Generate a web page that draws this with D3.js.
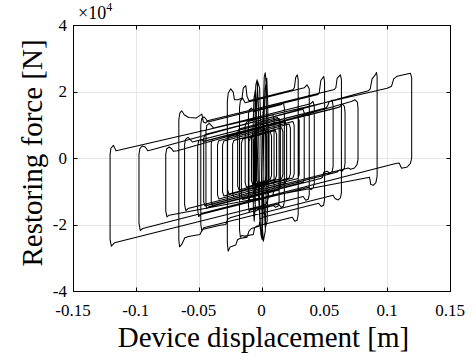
<!DOCTYPE html>
<html><head><meta charset="utf-8">
<script src="https://cdn.jsdelivr.net/npm/d3@7"></script>
<style>
body{margin:0;background:#fff}
text{font-family:"Liberation Serif","Times New Roman",serif;fill:#000}
</style>
</head><body>
<svg id="c" width="474" height="358"></svg>
<script>
// ---------- data ----------
const xTicks = [-0.15, -0.1, -0.05, 0, 0.05, 0.1, 0.15];
const xTickLabels = ["-0.15", "-0.1", "-0.05", "0", "0.05", "0.1", "0.15"];
const yTicks = [-4, -2, 0, 2, 4];
const yTickLabels = ["-4", "-2", "0", "2", "4"];
const xLabel = "Device displacement [m]";
const yLabel = "Restoring force [N]";
const yExponent = "4";

// hysteresis path: [displacement (m), restoring force (x1e4 N)]
const pathOuter = [
 [0.005,1.10],[0.0055,0.9],[0.0055,-1.2],[0.004,-1.38],[0.002,-1.42],
 [-0.117,-2.55],[-0.1195,-2.65],[-0.1205,-2.45],[-0.1205,0.1],[-0.1198,0.3],[-0.1178,0.38],[-0.1158,0.22],[-0.113,0.24],
 [0.100,2.10],[0.1035,2.16],[0.1052,2.38],[0.108,2.46],[0.1185,2.55],[0.1195,2.42],[0.1195,0.0],[0.1185,-0.16],[0.1160,-0.27],[0.1115,-0.31],[0.1095,-0.15],[0.106,-0.17],
 [-0.0945,-2.12],[-0.0965,-2.18],[-0.0975,-1.95],[-0.0975,0.1],[-0.0968,0.28],[-0.0950,0.36],[-0.0925,0.33],[-0.0905,0.22],[-0.088,0.24],
 [0.0850,2.02],[0.0865,2.08],[0.0880,2.38],[0.0905,2.50],[0.0915,2.57],[0.0920,2.45],[0.0920,-0.55],[0.0910,-0.74],[0.0890,-0.82],[0.0870,-0.80],[0.0860,-0.58],[0.083,-0.6],
 [-0.0735,-1.72],[-0.0752,-1.77],[-0.0762,-1.6],[-0.0762,0.1],[-0.0755,0.27],[-0.0735,0.33],[-0.0715,0.28],[-0.0700,0.20],[-0.067,0.22],
 [0.0715,1.70],[0.0745,1.75],[0.0763,1.68],[0.0768,1.5],[0.0768,-0.05],[0.0760,-0.2],[0.0740,-0.3],[0.0710,-0.34],[0.0690,-0.3],
 [-0.0585,-1.52],[-0.0602,-1.58],[-0.0612,-1.4],[-0.0612,0.4],[-0.0605,0.56],[-0.0585,0.62],[-0.0565,0.55],[-0.055,0.48],
 [0.0510,1.50],[0.0525,1.56],[0.0540,1.70],[0.0563,1.74],[0.0570,1.55],[0.0570,-0.25],[0.0562,-0.40],[0.0545,-0.46],[0.0525,-0.40],[0.0495,-0.43],[0.0485,-0.58],[0.0470,-0.62],
 [-0.0420,-1.47],[-0.0435,-1.52],[-0.0442,-1.35],[-0.0442,0.8],[-0.0435,0.98],[-0.0415,1.04],[-0.0395,0.96],[-0.038,0.9],
 [0.0390,1.63],[0.0410,1.70],[0.0420,1.55],[0.0420,-0.75],[0.0412,-0.90],[0.0395,-0.95],[0.0375,-0.88],
 [-0.0485,-1.70],[-0.0500,-1.76],[-0.0508,-1.55],[-0.0508,0.35],[-0.0500,0.52],[-0.0482,0.56],[-0.0462,0.50],
 [0.0620,1.53],[0.0645,1.62],[0.0660,1.55],[0.0665,1.35],[0.0665,-0.15],[0.0658,-0.32],[0.0640,-0.40],[0.0620,-0.36],[0.0605,-0.42]
];
const pathCentre = [
 [-0.045,-1.44],[-0.046,-1.32],[-0.046,0.59],[-0.045,0.71],[0.033,1.47],[0.034,1.35],[0.034,-0.61],[0.033,-0.73],
 [-0.039,-1.43],[-0.040,-1.31],[-0.040,0.45],[-0.039,0.57],[0.029,1.24],[0.030,1.12],[0.030,-0.50],[0.029,-0.62],
 [-0.034,-1.23],[-0.035,-1.11],[-0.035,0.40],[-0.034,0.52],[0.025,1.10],[0.026,0.98],[0.026,-0.48],[0.025,-0.60],
 [-0.030,-1.14],[-0.031,-1.02],[-0.031,0.39],[-0.030,0.51],[0.022,1.02],[0.023,0.90],[0.023,-0.48],[0.022,-0.60],
 [-0.026,-1.08],[-0.027,-0.96],[-0.027,0.52],[-0.026,0.64],[0.019,1.09],[0.020,0.97],[0.020,-0.64],[0.019,-0.76],
 [-0.022,-1.17],[-0.023,-1.05],[-0.023,0.41],[-0.022,0.53],[0.016,0.91],[0.017,0.79],[0.017,-0.50],[0.016,-0.62],
 [-0.018,-0.96],[-0.019,-0.84],[-0.019,0.75],[-0.018,0.87],[0.014,1.19],[0.015,1.07],[0.015,-0.84],[0.014,-0.96],
 [-0.015,-1.25],[-0.016,-1.13],[-0.016,0.45],[-0.015,0.57],[0.011,0.83],[0.012,0.71],[0.012,-0.52],[0.011,-0.64],
 [-0.012,-0.87],[-0.013,-0.75],[-0.013,0.96],[-0.012,1.08],[0.009,1.30],[0.010,1.18],[0.010,-0.99],[0.009,-1.11],
 [-0.009,-1.30],[-0.010,-1.18],[-0.010,0.49],[-0.009,0.61],[0.007,0.78],[0.008,0.66],[0.008,-0.52],[0.007,-0.64],
 [-0.007,-0.80],[-0.008,-0.68],[-0.008,0.60],[-0.007,0.72],[0.005,0.86],[0.006,0.74],[0.006,-0.62],[0.005,-0.74],
 [-0.005,-0.86],[-0.006,-0.74],[-0.006,0.54],[-0.005,0.66],[0.003,0.76],[0.004,0.64],[0.004,-0.59],[0.003,-0.71],
 [-0.003,-0.79],[-0.004,-0.67],[-0.004,0.74],[-0.003,0.86],[0.002,0.93],[0.003,0.81],[0.003,-0.75],[0.002,-0.87],
 [-0.004,-0.95],[-0.005,-0.83],[-0.005,0.93],[-0.004,1.05]
];
const pathInner = [
 [0.0125,1.22],[0.014,1.15],[0.014,-1.35],[0.013,-1.45],[0.011,-1.48],[0.0095,-1.43],
 [-0.025,-1.80],[-0.027,-1.84],[-0.0285,-2.0],[-0.033,-2.02],[-0.047,-2.15],[-0.049,-2.3],[-0.058,-2.36],[-0.061,-2.4],[-0.0635,-2.6],[-0.0652,-2.67],
 [-0.0658,-2.45],[-0.0658,1.15],[-0.0650,1.35],[-0.0635,1.42],[-0.0615,1.3],[-0.058,1.22],[-0.052,1.2],[-0.0475,1.32],[-0.0462,1.08],[-0.0445,1.05],[-0.043,1.12],
 [0.0580,2.06],[0.0592,2.12],[0.0602,2.40],[0.0628,2.50],[0.0636,2.36],[0.0636,-1.05],[0.0628,-1.20],[0.0610,-1.26],[0.0585,-1.22],[0.0570,-1.12],
 [-0.0460,-2.10],[-0.0475,-2.2],[-0.0483,-2.0],[-0.0483,1.0],[-0.0476,1.18],[-0.0458,1.24],[-0.0440,1.16],[-0.0425,1.08],
 [0.0450,1.91],[0.0460,1.98],[0.0472,2.33],[0.0495,2.45],[0.0502,2.30],[0.0502,-1.25],[0.0494,-1.42],[0.0475,-1.46],[0.0455,-1.36],
 [0.001,-1.78],[-0.001,-1.84],[-0.002,-2.05],[-0.008,-2.12],[-0.010,-2.2],[-0.0115,-2.38],[-0.017,-2.42],[-0.019,-2.45],[-0.0205,-2.62],[-0.025,-2.68],[-0.0265,-2.8],
 [-0.0272,-2.55],[-0.0272,1.7],[-0.0265,1.95],[-0.0245,2.08],[-0.0225,1.98],[-0.0215,1.75],[-0.019,1.75],[-0.0155,1.8],[-0.0145,2.1],[-0.0125,2.18],[-0.0115,1.85],[-0.010,1.72],
 [0.0250,2.05],[0.0262,2.12],[0.0272,2.42],[0.0285,2.50],[0.0292,2.35],[0.0292,-1.7],[0.0284,-1.87],[0.0265,-1.9],[0.0245,-1.78],
 [-0.004,-2.05],[-0.0055,-2.1],[-0.0065,-2.3],[-0.0135,-2.35],[-0.0155,-2.33],[-0.0168,-2.38],[-0.0175,-2.15],[-0.0175,1.5],[-0.0168,1.72],[-0.015,1.8],[-0.013,1.66],
 [0.0340,2.11],[0.0362,2.2],[0.0380,2.08],[0.0380,-1.1],[0.0372,-1.24],[0.0352,-1.27],[0.0332,-1.16],
 [-0.0090,-1.56],[-0.0098,-1.62],[-0.0104,-1.42],[-0.0104,1.3],[-0.0097,1.45],[-0.0080,1.5],[-0.0060,1.40],
 [0.0160,1.61],[0.0175,1.66],[0.0182,1.5],[0.0182,-1.3],[0.0175,-1.45],[0.0155,-1.48],[0.0135,-1.38]
];
const pathSpikes = [
 [-0.003,-1.54],[-0.0045,-1.6],[-0.0055,-1.2],[-0.005,1.8],[-0.0045,2.2],[-0.0035,2.35],[-0.0025,1.6],[-0.0015,-1.5],[-0.0005,-2.3],[0.0005,-2.45],
 [0.0012,-1.6],[0.0015,1.5],[0.0022,2.45],[0.0030,2.56],[0.0038,2.2],[0.0040,-0.5],[0.0030,-2.2],[0.0015,-2.5],[0.0005,-2.0],[-0.0005,0.9],
 [-0.0015,2.1],[-0.0030,2.3],[-0.0042,1.2],[-0.0050,-1.4],[-0.0058,-1.9],[-0.0065,-1.5],[-0.0068,0.8],[-0.0060,1.8],[-0.0048,2.05],[-0.0038,1.0],
 [-0.0025,-1.0],[-0.0010,-2.1],[0.0000,-2.4],[0.0010,-1.2],[0.0020,1.2],[0.0030,2.1],[0.0042,2.4],[0.0050,1.6],[0.0052,-0.8],[0.0045,-1.9],
 [0.0030,-2.1],[0.0015,-1.0],[0.0008,0.6],[0.0012,1.4]
];

// ---------- drawing ----------
const svg = d3.select("#c");
const L = 73, R = 450, T = 25, B = 291;
const x = d3.scaleLinear().domain([-0.15, 0.15]).range([L, R]);
const y = d3.scaleLinear().domain([-4, 4]).range([B, T]);
const px = v => Math.round(v) + 0.5;

// grid
const g = svg.append("g");
g.selectAll("line.gx").data(xTicks.slice(1, -1)).join("line")
  .attr("x1", d => px(x(d))).attr("x2", d => px(x(d))).attr("y1", T).attr("y2", B)
  .attr("stroke", "#e6e6e6").attr("stroke-width", 1);
g.selectAll("line.gy").data(yTicks.slice(1, -1)).join("line")
  .attr("y1", d => px(y(d))).attr("y2", d => px(y(d))).attr("x1", L).attr("x2", R)
  .attr("stroke", "#e6e6e6").attr("stroke-width", 1);

// data line
svg.append("clipPath").attr("id", "clip").append("rect")
  .attr("x", L).attr("y", T).attr("width", R - L).attr("height", B - T);
const all = pathOuter.concat(pathCentre, pathInner, pathSpikes);
const line = d3.line().x(d => x(d[0])).y(d => y(d[1]));
svg.append("path").attr("d", line(all)).attr("clip-path", "url(#clip)")
  .attr("fill", "none").attr("stroke", "#000").attr("stroke-width", 1.05)
  .attr("stroke-linejoin", "round");

// box
svg.append("rect").attr("x", px(L)).attr("y", px(T)).attr("width", Math.round(R - L)).attr("height", Math.round(B - T))
  .attr("fill", "none").attr("stroke", "#000").attr("stroke-width", 1);

// ticks (inward, all four sides)
const tl = 4;
const tk = svg.append("g").attr("stroke", "#000").attr("stroke-width", 1);
xTicks.forEach(d => {
  const X = px(x(d));
  tk.append("line").attr("x1", X).attr("x2", X).attr("y1", px(B)).attr("y2", px(B) - tl);
  tk.append("line").attr("x1", X).attr("x2", X).attr("y1", px(T)).attr("y2", px(T) + tl);
});
yTicks.forEach(d => {
  const Y = px(y(d));
  tk.append("line").attr("y1", Y).attr("y2", Y).attr("x1", px(L)).attr("x2", px(L) + tl);
  tk.append("line").attr("y1", Y).attr("y2", Y).attr("x1", px(R)).attr("x2", px(R) - tl);
});

// tick labels
svg.selectAll("text.xt").data(xTicks).join("text")
  .attr("x", d => x(d)).attr("y", 316).attr("text-anchor", "middle")
  .attr("font-size", 17).text((d, i) => xTickLabels[i]);
svg.selectAll("text.yt").data(yTicks).join("text")
  .attr("x", 67).attr("y", d => y(d)).attr("dy", "0.33em").attr("text-anchor", "end")
  .attr("font-size", 17).text((d, i) => yTickLabels[i]);

// exponent
const ex = svg.append("text").attr("x", 78).attr("y", 19).attr("font-size", 18);
ex.append("tspan").text("\u00d710");
ex.append("tspan").attr("font-size", 12).attr("dy", -8).text(yExponent);

// axis labels
svg.append("text").attr("x", (L + R) / 2 + 2).attr("y", 347).attr("text-anchor", "middle")
  .attr("font-size", 29).text(xLabel);
svg.append("text").attr("transform", `translate(42,${(T + B) / 2 - 5}) rotate(-90)`)
  .attr("text-anchor", "middle").attr("font-size", 29).text(yLabel);
</script>
</body></html>
